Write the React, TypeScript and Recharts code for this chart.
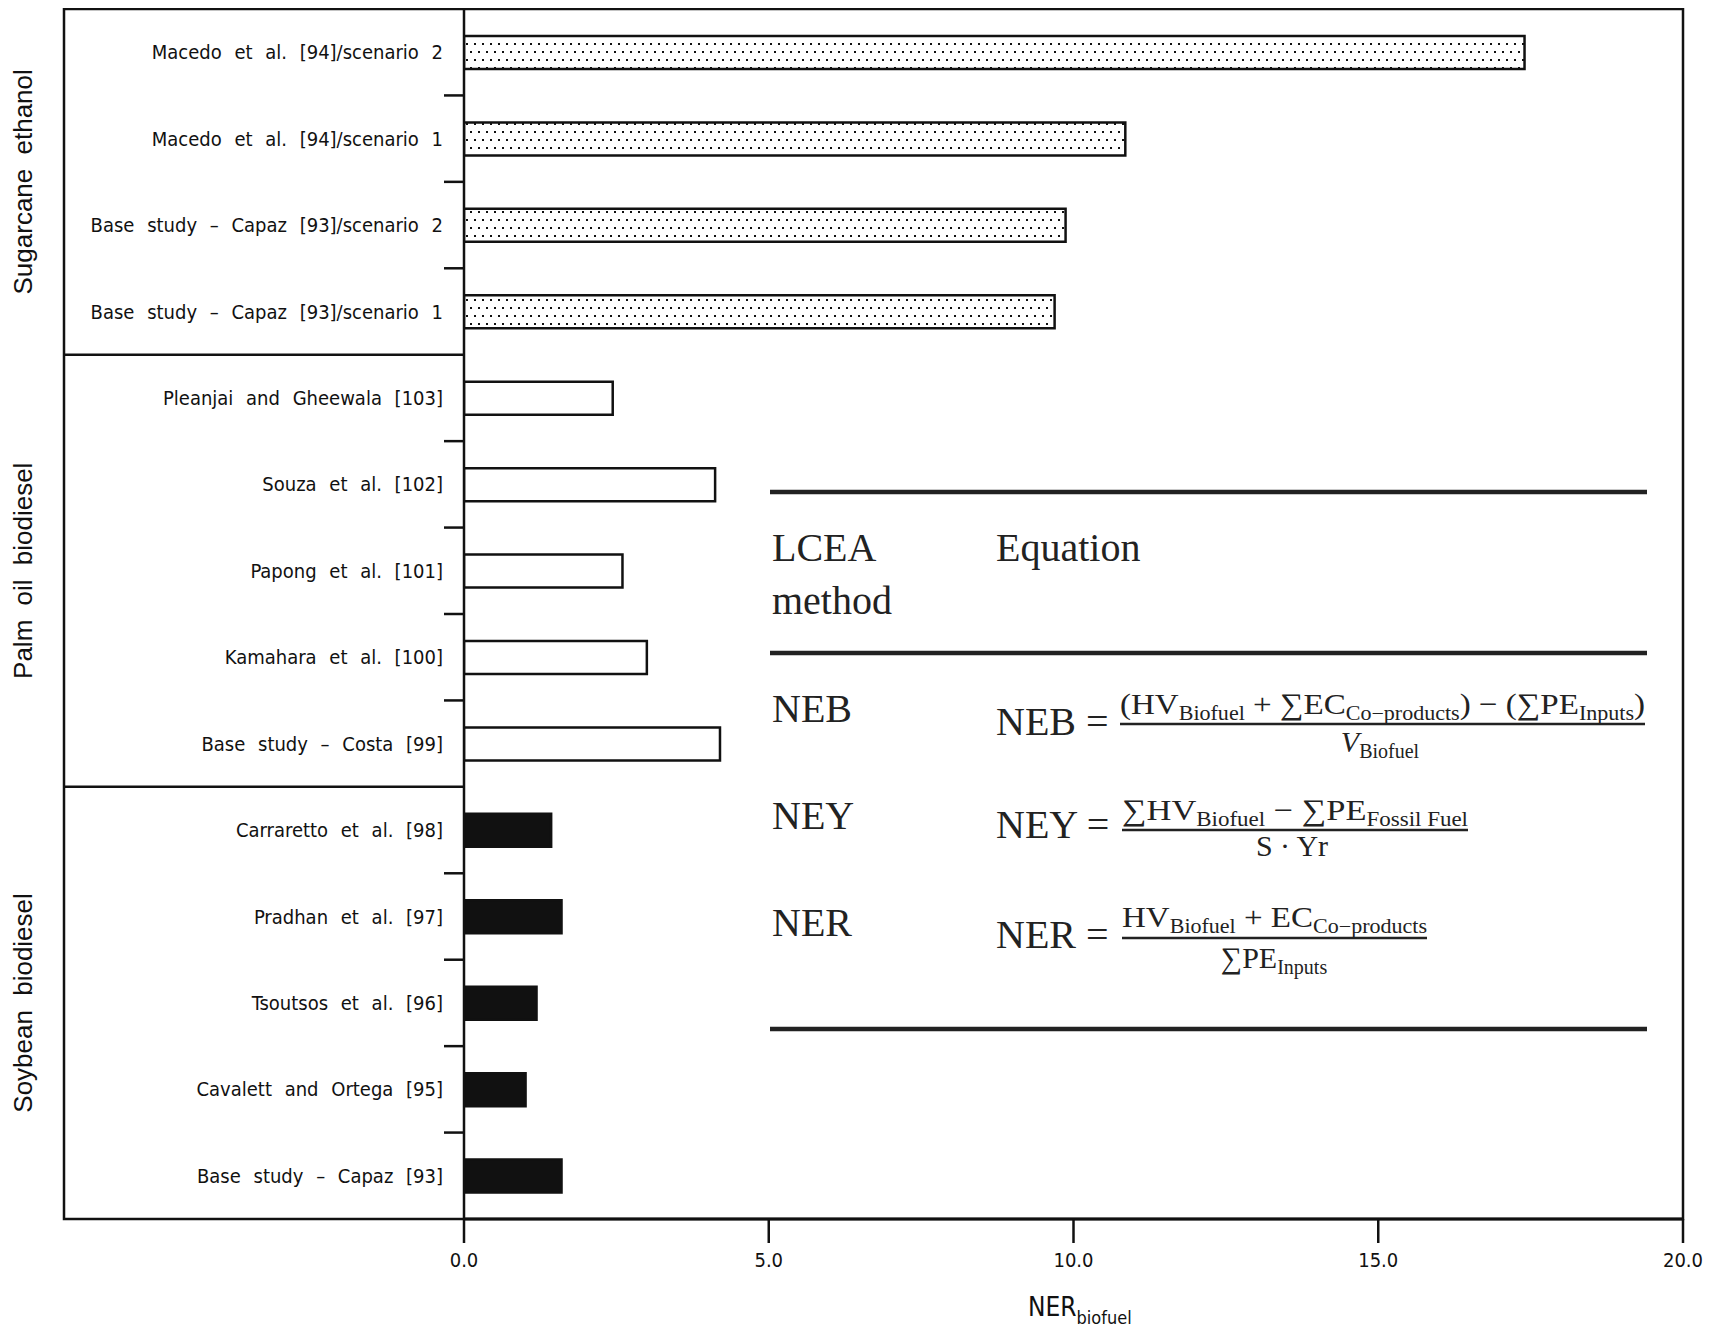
import { BarChart, Bar, XAxis, YAxis, Cell, Customized } from 'recharts';

const studies = [
  'Macedo et al. [94]/scenario 2',
  'Macedo et al. [94]/scenario 1',
  'Base study – Capaz [93]/scenario 2',
  'Base study – Capaz [93]/scenario 1',
  'Pleanjai and Gheewala [103]',
  'Souza et al. [102]',
  'Papong et al. [101]',
  'Kamahara et al. [100]',
  'Base study – Costa [99]',
  'Carraretto et al. [98]',
  'Pradhan et al. [97]',
  'Tsoutsos et al. [96]',
  'Cavalett and Ortega [95]',
  'Base study – Capaz [93]',
];
const nerValues = [17.4, 10.85, 9.87, 9.69, 2.44, 4.12, 2.6, 3.0, 4.2, 1.43, 1.6, 1.19, 1.01, 1.6];
// 0 = sugarcane, 1 = palm oil, 2 = soybean
const rowGroup = [0, 0, 0, 0, 1, 1, 1, 1, 1, 2, 2, 2, 2, 2];
const groupNames = ['Sugarcane ethanol', 'Palm oil biodiesel', 'Soybean biodiesel'];
const xTicks = [0, 5, 10, 15, 20];

const W = 1710;
const H = 1322;
const XAXIS_H = 30;
const M = { top: 1, right: 35, bottom: 111 - XAXIS_H, left: 0 };
const AXIS_W = 456;
const FRAME_L = 56;
const plotTop = M.top;
const plotBottom = H - M.bottom - XAXIS_H;
const plotRight = W - M.right;
const band = (plotBottom - plotTop) / studies.length;

const ink = '#111';
const narrow = '"Liberation Sans Narrow", "DejaVu Sans Condensed", "Roboto Condensed", sans-serif';
const sans = '"Liberation Sans", "DejaVu Sans", sans-serif';
const serif = '"Liberation Serif", "DejaVu Serif", serif';

const data = studies.map((name, i) => ({ name, ner: nerValues[i], group: rowGroup[i] }));
const groupFill = ['url(#dots)', '#ffffff', ink];

function StudyTick({ y, payload }: any) {
  return (
    <text x={AXIS_W - 21} y={y} dy={7} textAnchor="end" fontFamily={narrow} fontSize={20}
      fill={ink} style={{ wordSpacing: '7px' }}>
      {payload.value}
    </text>
  );
}

function ValueTick({ x, y, payload }: any) {
  return (
    <text x={x} y={y + 22} textAnchor="middle" fontFamily={narrow} fontSize={20} fill={ink}>
      {Number(payload.value).toFixed(1)}
    </text>
  );
}

function Overlay() {
  const marks = [];
  for (let i = 1; i < studies.length; i++) {
    const y = plotTop + i * band;
    if (rowGroup[i] !== rowGroup[i - 1]) {
      marks.push(<line key={'s' + i} x1={FRAME_L} x2={AXIS_W} y1={y} y2={y} stroke={ink} strokeWidth={2.5} />);
    } else {
      marks.push(<line key={'t' + i} x1={AXIS_W - 20} x2={AXIS_W} y1={y} y2={y} stroke={ink} strokeWidth={2.5} />);
    }
  }
  const labels = groupNames.map((g, gi) => {
    const first = rowGroup.indexOf(gi);
    const last = rowGroup.lastIndexOf(gi);
    const cy = plotTop + ((first + last + 1) / 2) * band;
    return (
      <text key={g} x={24} y={cy} transform={`rotate(-90 24 ${cy})`} textAnchor="middle"
        fontFamily={sans} fontSize={26} fill={ink} style={{ wordSpacing: '7px' }}>
        {g}
      </text>
    );
  });
  const big = { fontFamily: serif, fontSize: 40, fill: '#222' };
  const eq = { fontFamily: serif, fontSize: 30, fill: '#222' };
  return (
    <g>
      <rect x={FRAME_L} y={plotTop} width={plotRight - FRAME_L} height={plotBottom - plotTop}
        fill="none" stroke={ink} strokeWidth={2.5} />
      {marks}
      {labels}
      <text x={1020} y={1308} fontFamily={narrow} fontSize={26} fill={ink}>
        NER<tspan fontSize={18} dy={8}>biofuel</tspan>
      </text>

      {/* LCEA table */}
      <line x1={762} x2={1639} y1={484} y2={484} stroke="#222" strokeWidth={4.5} />
      <line x1={762} x2={1639} y1={645} y2={645} stroke="#222" strokeWidth={4.5} />
      <line x1={762} x2={1639} y1={1021} y2={1021} stroke="#222" strokeWidth={4.5} />
      <text x={764} y={553} {...big}>LCEA</text>
      <text x={764} y={606} {...big}>method</text>
      <text x={988} y={553} {...big}>Equation</text>
      <text x={764} y={714} {...big}>NEB</text>
      <text x={764} y={821} {...big}>NEY</text>
      <text x={764} y={928} {...big}>NER</text>

      <text x={988} y={727} {...big}>NEB =</text>
      <text x={1112} y={706} {...eq} textLength={525} lengthAdjust="spacingAndGlyphs">
        (HV<tspan fontSize={20} dy={6}>Biofuel</tspan><tspan dy={-6}> + ∑EC</tspan>
        <tspan fontSize={20} dy={6}>Co−products</tspan><tspan dy={-6}>) − (∑PE</tspan>
        <tspan fontSize={20} dy={6}>Inputs</tspan><tspan dy={-6}>)</tspan>
      </text>
      <line x1={1112} x2={1637} y1={716} y2={716} stroke="#222" strokeWidth={2.5} />
      <text x={1372} y={744} textAnchor="middle" {...eq}>
        <tspan fontStyle="italic">V</tspan><tspan fontSize={20} dy={6}>Biofuel</tspan>
      </text>

      <text x={988} y={830} {...big}>NEY =</text>
      <text x={1114} y={812} {...eq} textLength={346} lengthAdjust="spacingAndGlyphs">
        ∑HV<tspan fontSize={20} dy={6}>Biofuel</tspan><tspan dy={-6}> − ∑PE</tspan>
        <tspan fontSize={20} dy={6}>Fossil  Fuel</tspan>
      </text>
      <line x1={1114} x2={1460} y1={822} y2={822} stroke="#222" strokeWidth={2.5} />
      <text x={1284} y={848} textAnchor="middle" {...eq}>S · Yr</text>

      <text x={988} y={940} {...big}>NER =</text>
      <text x={1114} y={919} {...eq} textLength={305} lengthAdjust="spacingAndGlyphs">
        HV<tspan fontSize={20} dy={6}>Biofuel</tspan><tspan dy={-6}> + EC</tspan>
        <tspan fontSize={20} dy={6}>Co−products</tspan>
      </text>
      <line x1={1114} x2={1419} y1={930} y2={930} stroke="#222" strokeWidth={2.5} />
      <text x={1266} y={960} textAnchor="middle" {...eq}>
        ∑PE<tspan fontSize={20} dy={6}>Inputs</tspan>
      </text>
    </g>
  );
}

export default function App() {
  return (
    <div style={{ width: W, height: H, background: '#fff' }}>
      <BarChart width={W} height={H} data={data} layout="vertical" margin={M}>
        <defs>
          <pattern id="dots" patternUnits="userSpaceOnUse" width={8} height={16}>
            <rect width={8} height={16} fill="#fff" />
            <rect x={2} y={3} width={2} height={2} fill="#111" />
            <rect x={6} y={11} width={2} height={2} fill="#111" />
          </pattern>
        </defs>
        <XAxis type="number" domain={[0, 20]} ticks={xTicks} interval={0} allowDataOverflow height={XAXIS_H}
          axisLine={{ stroke: ink, strokeWidth: 3 }} tickLine={{ stroke: ink, strokeWidth: 2.5 }}
          tickSize={24} tick={(p: any) => <ValueTick {...p} />} />
        <YAxis type="category" dataKey="name" width={AXIS_W} interval={0}
          axisLine={{ stroke: ink, strokeWidth: 2.5 }} tickLine={false}
          tick={(p: any) => <StudyTick {...p} />} />
        <Bar dataKey="ner" barSize={33} isAnimationActive={false} stroke={ink} strokeWidth={2.5}>
          {data.map((d, i) => (
            <Cell key={i} fill={groupFill[d.group]} />
          ))}
        </Bar>
        <Customized component={Overlay} />
      </BarChart>
    </div>
  );
}
